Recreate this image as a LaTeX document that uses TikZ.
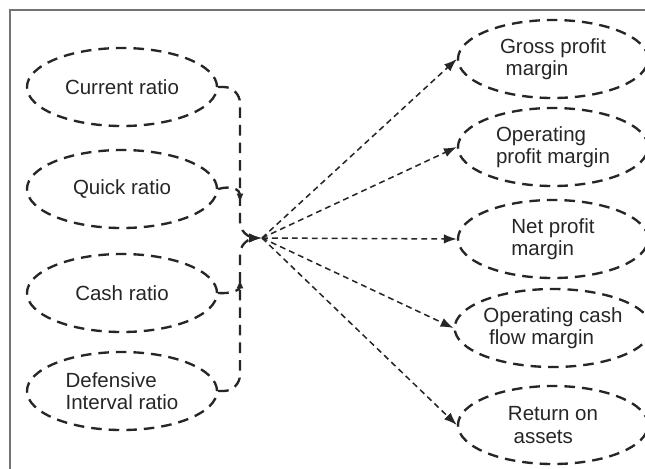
\documentclass[tikz,border=0pt]{standalone}
\usepackage{fontspec}
\setmainfont{Liberation Sans}
\usetikzlibrary{positioning, shapes.geometric, arrows.meta}

\begin{document}
\begin{tikzpicture}[
    x=0.03cm, y=-0.03cm,
    ratio/.style={ellipse, draw=black!85, line width=2pt, dash pattern=on 9pt off 6pt, minimum width=5.7cm, minimum height=2.34cm, inner sep=0pt, align=left, font=\fontsize{17.5}{19}\selectfont, text=black!85},
    link/.style={draw=black!85, line width=1.3pt, dash pattern=on 5pt off 3.5pt, -{Latex[length=11pt, width=8pt]}},
    elbow/.style={draw=black!85, line width=2pt, dash pattern=on 9pt off 6pt, rounded corners=14pt}
]
\useasboundingbox (0,0) rectangle (645,468);
\clip (0,0) rectangle (645,468);
\fill[white] (0,0) rectangle (645,468);

% Frame
\draw[black!55, line width=1.2pt] (10,500) -- (10,10) -- (700,10);

% Nodes
\node[ratio] (cur) at (122,87) {Current ratio};
\node[ratio] (quick) at (122,189) {Quick ratio};
\node[ratio] (cash) at (122,293) {Cash ratio};
\node[ratio] (def) at (122,391) {Defensive\\Interval ratio};

\node[ratio] (gross) at (553,59) {Gross profit\\\ margin};
\node[ratio] (oper) at (553,147) {Operating\\profit margin};
\node[ratio] (net) at (553,239) {Net profit\\margin};
\node[ratio] (ocf) at (553,328) {Operating cash\\\ flow margin};
\node[ratio] (roa) at (553,425) {Return on\\\ assets};

\coordinate (hub) at (262,238);
\coordinate (bus) at (240,238);
\coordinate (qbus) at (240,203);
\coordinate (cbus) at (240,279);

% Connections
\draw[elbow, -{Latex[length=11pt, width=8pt]}] (cur.east) -| (bus) -- (hub);
\draw[elbow, -{Latex[length=11pt, width=8pt]}] (def.east) -| (bus) -- (hub);
\draw[elbow, -{Latex[length=8pt, width=6pt]}] (quick.east) .. controls (232,185) and (240,190) .. (qbus);
\draw[elbow, -{Latex[length=8pt, width=6pt]}] (cash.east) .. controls (230,294) and (240,290) .. (cbus);

\draw[link] (hub) -- (gross.west);
\draw[link] (hub) -- (oper.west);
\draw[link] (hub) -- (net.west);
\draw[link] (hub) -- (ocf.west);
\draw[link] (hub) -- (roa.west);

\end{tikzpicture}
\end{document}
